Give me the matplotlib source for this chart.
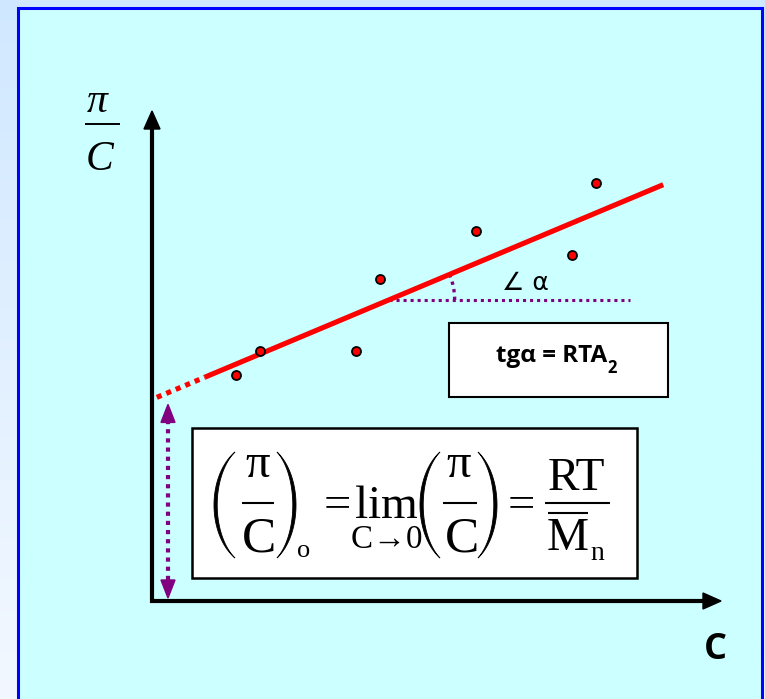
import numpy as np
import matplotlib
matplotlib.use("Agg")
import matplotlib.pyplot as plt
from matplotlib.patches import Rectangle, Polygon, Arc

plt.rcParams['mathtext.fontset'] = 'custom'
plt.rcParams['mathtext.rm'] = 'Liberation Serif'
plt.rcParams['mathtext.it'] = 'Liberation Serif:italic'
plt.rcParams['mathtext.bf'] = 'Liberation Serif:bold'

# ---- data (arbitrary units) ----
conc = [3.5, 4.5, 8.5, 9.5, 13.5, 17.5, 18.5]
pi_over_c = [9.4, 10.4, 10.4, 13.4, 15.4, 14.4, 17.4]
intercept = 8.4
slope = 0.42
fit_solid_range = [2.2, 21.3]
fit_dotted_range = [0.2, 2.2]

# ---- pixel helper for decorations ----
S = 24.0
X0, Y0 = 152.0, 601.0
W, H = 765, 699


def P(x, y):
    return ((x - X0) / S, (Y0 - y) / S)


fig = plt.figure(figsize=(W / 100, H / 100), dpi=100)
ax = fig.add_axes([0, 0, 1, 1])
xmin, xmax = -X0 / S, (W - X0) / S
ymin, ymax = -(H - Y0) / S, Y0 / S
ax.set_xlim(xmin, xmax)
ax.set_ylim(ymin, ymax)
ax.axis('off')

# background gradient
top = np.array([208, 232, 255]) / 255
bot = np.array([243, 248, 255]) / 255
t = np.linspace(0, 1, 256)[:, None]
grad = top[None, None, :] * (1 - t[..., None]) + bot[None, None, :] * t[..., None]
grad = np.repeat(grad, 2, axis=1)
ax.imshow(grad, extent=(xmin, xmax, ymin, ymax), aspect='auto', zorder=0,
          interpolation='bilinear')

# inner panel
x1, y1 = P(18, 8)
x2, _ = P(762, 8)
ax.add_patch(Rectangle((x1, ymin - 1), x2 - x1, y1 - ymin + 1, facecolor='#CCFFFF',
                       edgecolor='#0000FF', lw=2.2, zorder=1))

# axes (corner polyline + arrow heads)
ax.plot([P(152, 0)[0], P(152, 0)[0], P(705, 0)[0]],
        [P(0, 125)[1], P(0, 601)[1], P(0, 601)[1]],
        color='black', lw=3, solid_joinstyle='miter', solid_capstyle='butt', zorder=3)
ax.add_patch(Polygon([P(152, 111), P(144, 129), P(160, 129)], closed=True,
                     color='black', zorder=3))
ax.add_patch(Polygon([P(721, 601), P(703, 593), P(703, 609)], closed=True,
                     color='black', zorder=3))

# fit line
xs = np.array(fit_solid_range)
ax.plot(xs, intercept + slope * xs, color='#FF0000', lw=3.7, solid_capstyle='butt', zorder=4)
xd = np.array(fit_dotted_range)
ax.plot(xd, intercept + slope * xd, color='#FF0000', lw=3.7, ls=(0, (1, 1)),
        dash_capstyle='butt', zorder=4)

# data points
ax.scatter(conc, pi_over_c, s=42, color='#FF0000', edgecolor='black', lw=1.3, zorder=5)

purple = '#800080'
# horizontal dotted reference line
cross_x = (P(0, 300)[1] - intercept) / slope
ax.plot([cross_x, P(630, 300)[0]], [P(0, 300)[1]] * 2, color=purple, lw=2.2,
        ls=(0, (1, 1.3)), zorder=3)
# angle arc
r = 66 / S
ax.add_patch(Arc((cross_x, P(0, 300)[1]), 2 * r, 2 * r, theta1=0,
                 theta2=np.degrees(np.arctan(slope)), color=purple, lw=2.4,
                 ls=(0, (1, 1.3)), zorder=3))
ax.text(*P(525, 283), '∠ α', fontsize=18, family=['DejaVu Sans'], ha='center',
        va='center', zorder=6)

# intercept arrow
vx = 168
tip_up = Y0 - intercept * S + 5
ax.plot([P(vx, 0)[0]] * 2, [P(0, tip_up + 16)[1], P(0, 582)[1]], color=purple, lw=3,
        ls=(0, (1, 1.2)), zorder=3)
ax.add_patch(Polygon([P(vx, tip_up), P(vx - 7, tip_up + 18), P(vx + 7, tip_up + 18)],
                     closed=True, color=purple, zorder=3))
ax.add_patch(Polygon([P(vx, 598), P(vx - 7, 580), P(vx + 7, 580)],
                     closed=True, color=purple, zorder=3))

# tg box
bx, by = P(449, 397)
ax.add_patch(Rectangle((bx, by), 219 / S, 74 / S, facecolor='white', edgecolor='black',
                       lw=1.5, zorder=6))
tg = ax.text(*P(552, 362), 'tgα = RTA', fontsize=17.5, fontweight='bold',
             family=['Open Sans', 'DejaVu Sans'], ha='center', va='baseline', zorder=7)
ax.annotate('2', xy=(1.0, 0.0), xycoords=tg, fontsize=12, fontweight='bold',
            family=['Open Sans'], ha='left', va='center', zorder=7)

# formula box
fx, fy = P(192, 578)
ax.add_patch(Rectangle((fx, fy), 445 / S, 150 / S, facecolor='white', edgecolor='black',
                       lw=1.8, zorder=6))

serif = 'Liberation Serif'


def paren(xl, xr, yt, yb, left=True, thick=3.2):
    th0 = np.radians(60)
    u = np.linspace(-1, 1, 80)
    yc, hh, w = (yt + yb) / 2, (yb - yt) / 2, xr - xl
    f = (np.cos(th0 * u) - np.cos(th0)) / (1 - np.cos(th0))
    yy = yc + hh * np.sin(th0 * u) / np.sin(th0)
    if left:
        outer = xr - w * f
        inner = xr - (w - thick) * f
    else:
        outer = xl + w * f
        inner = xl + (w - thick) * f
    pts = [P(a, b) for a, b in zip(outer, yy)] + \
          [P(a, b) for a, b in zip(inner[::-1], yy[::-1])]
    ax.add_patch(Polygon(pts, closed=True, facecolor='black', edgecolor='black',
                         lw=0.6, zorder=7))


def txt(x, y, s, size, **kw):
    ax.text(*P(x, y), s, fontsize=size, family=[serif, 'DejaVu Serif'], ha='center',
            va='baseline', zorder=7, **kw)


def hbar(xl, xr, y, lw=1.5):
    ax.plot([P(xl, 0)[0], P(xr, 0)[0]], [P(0, y)[1]] * 2, color='black', lw=lw,
            solid_capstyle='butt', zorder=7)


# (pi / C)_o
paren(214, 235, 452, 558, left=True)
txt(258, 477, 'π', 35)
hbar(242, 274, 503)
txt(259, 552, 'C', 37)
paren(277, 296, 452, 558, left=False)
txt(304, 557, 'o', 19)
# =
txt(337, 518, '=', 35)
# lim_{C->0}
txt(386, 518, r'$\mathrm{\lim_{C\to 0}}$', 34)
# (pi / C)
paren(420, 440, 452, 558, left=True)
txt(459, 477, 'π', 35)
hbar(443, 477, 503)
txt(462, 552, 'C', 37)
paren(478, 497, 452, 558, left=False)
# =
txt(521, 518, '=', 35)
# RT / Mn
txt(576, 490, 'RT', 34)
hbar(545, 610, 503)
hbar(548, 588, 513)
txt(568, 550, 'M', 34)
txt(597, 560, 'n', 20)

# axis labels
txt(97, 112, 'π', 30, style='italic')
hbar(85, 120, 124, lw=1.4)
txt(100, 170, 'C', 30, style='italic')
ax.text(*P(715, 650), 'C', fontsize=26, fontweight='bold', family=['Open Sans'],
        ha='center', va='center', zorder=6)

fig.savefig('out.png', dpi=100)
